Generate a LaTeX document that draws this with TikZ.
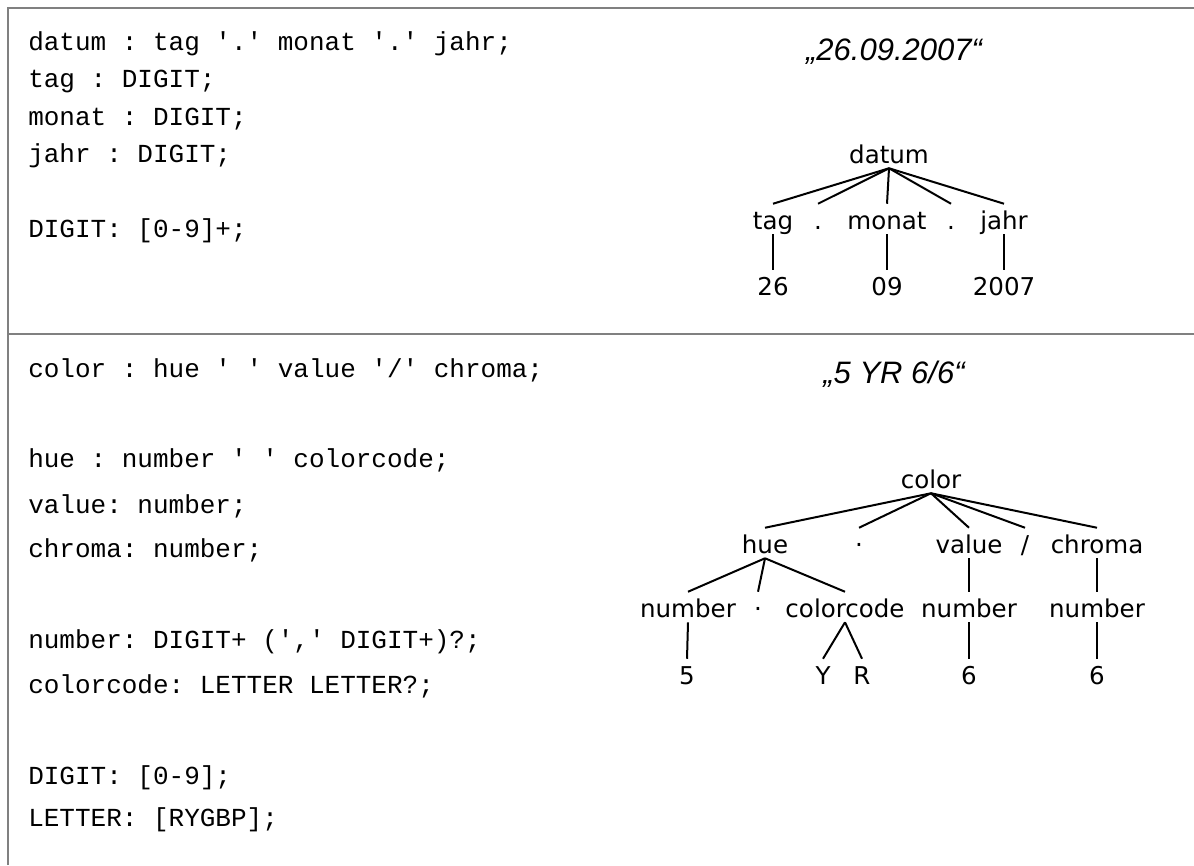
\documentclass[tikz,border=0pt]{standalone}
\usepackage{fontspec}
\setmainfont{DejaVu Sans}
\setmonofont{Liberation Mono}
\newfontfamily\quotefont{Liberation Sans}
\begin{document}
\begin{tikzpicture}[x=0.75pt,y=-0.75pt,
		code/.style={anchor=base west,inner sep=0pt,font=\ttfamily\fontsize{19.5}{23}\selectfont},
		sample/.style={anchor=base,inner sep=0pt,font=\quotefont\itshape\fontsize{23.25}{28}\selectfont},
		tn/.style={anchor=base,inner sep=0pt,text height=18.75pt,text depth=3.75pt,font=\fontsize{18.4}{22}\selectfont},
		branch/.style={line width=1.5pt},
		frame/.style={draw=gray,line width=1.5pt}]
		\useasboundingbox (0,0) rectangle (1194,865);
		\draw[frame] (8,865) -- (8,8) -- (1194,8);
		\draw[frame] (8,334) -- (1194,334);

		\node[code] (c1) at (28,50) {datum : tag '.' monat '.' jahr;};
		\node[code] (c2) at (28,87.5) {tag : DIGIT;};
		\node[code] (c3) at (28,125) {monat : DIGIT;};
		\node[code] (c4) at (28,162.5) {jahr : DIGIT;};
		\node[code] (c5) at (28,237.5) {DIGIT: [0-9]+;};

		\node[code] (k1) at (28,377) {color : hue ' ' value '/' chroma;};
		\node[code] (k2) at (28,467) {hue : number ' ' colorcode;};
		\node[code] (k3) at (28,513) {value: number;};
		\node[code] (k4) at (28,557) {chroma: number;};
		\node[code] (k5) at (28,648) {number: DIGIT+ (',' DIGIT+)?;};
		\node[code] (k6) at (28,693) {colorcode: LETTER LETTER?;};
		\node[code] (k7) at (28,784) {DIGIT: [0-9];};
		\node[code] (k8) at (28,826) {LETTER: [RYGBP];};

		\node[sample] (s1) at (894,60) {„26.09.2007“};
		\node[sample] (s2) at (894,383) {„5 YR 6/6“};

		\node[tn] (datum) at (889,163) {datum};
		\node[tn] (tag) at (773,229) {tag};
		\node[tn] (dotA) at (818,229) {.};
		\node[tn] (monat) at (887,229) {monat};
		\node[tn] (dotB) at (951,229) {.};
		\node[tn] (jahr) at (1004,229) {jahr};
		\node[tn] (n26) at (773,295) {26};
		\node[tn] (n09) at (887,295) {09};
		\node[tn] (n2007) at (1004,295) {2007};
		\draw[branch] (datum.south) -- (tag.north);
		\draw[branch] (datum.south) -- (dotA.north);
		\draw[branch] (datum.south) -- (monat.north);
		\draw[branch] (datum.south) -- (dotB.north);
		\draw[branch] (datum.south) -- (jahr.north);
		\draw[branch] (tag.south) -- (n26.north);
		\draw[branch] (monat.south) -- (n09.north);
		\draw[branch] (jahr.south) -- (n2007.north);

		\node[tn] (color) at (931,488) {color};
		\node[tn] (hue) at (765,553) {hue};
		\node[tn] (spA) at (859,553) {·};
		\node[tn] (value) at (969,553) {value};
		\node[tn] (slash) at (1025,553) {/};
		\node[tn] (chroma) at (1097,553) {chroma};
		\node[tn] (numA) at (688,617) {number};
		\node[tn] (spB) at (758,617) {·};
		\node[tn] (ccode) at (845,617) {colorcode};
		\node[tn] (numB) at (969,617) {number};
		\node[tn] (numC) at (1097,617) {number};
		\node[tn] (d5) at (687,684) {5};
		\node[tn] (lY) at (823,684) {Y};
		\node[tn] (lR) at (862,684) {R};
		\node[tn] (d6a) at (969,684) {6};
		\node[tn] (d6b) at (1097,684) {6};
		\draw[branch] (color.south) -- (hue.north);
		\draw[branch] (color.south) -- (spA.north);
		\draw[branch] (color.south) -- (value.north);
		\draw[branch] (color.south) -- (slash.north);
		\draw[branch] (color.south) -- (chroma.north);
		\draw[branch] (hue.south) -- (numA.north);
		\draw[branch] (hue.south) -- (spB.north);
		\draw[branch] (hue.south) -- (ccode.north);
		\draw[branch] (value.south) -- (numB.north);
		\draw[branch] (chroma.south) -- (numC.north);
		\draw[branch] (numA.south) -- (d5.north);
		\draw[branch] (ccode.south) -- (lY.north);
		\draw[branch] (ccode.south) -- (lR.north);
		\draw[branch] (numB.south) -- (d6a.north);
		\draw[branch] (numC.south) -- (d6b.north);
	\end{tikzpicture}
\end{document}
